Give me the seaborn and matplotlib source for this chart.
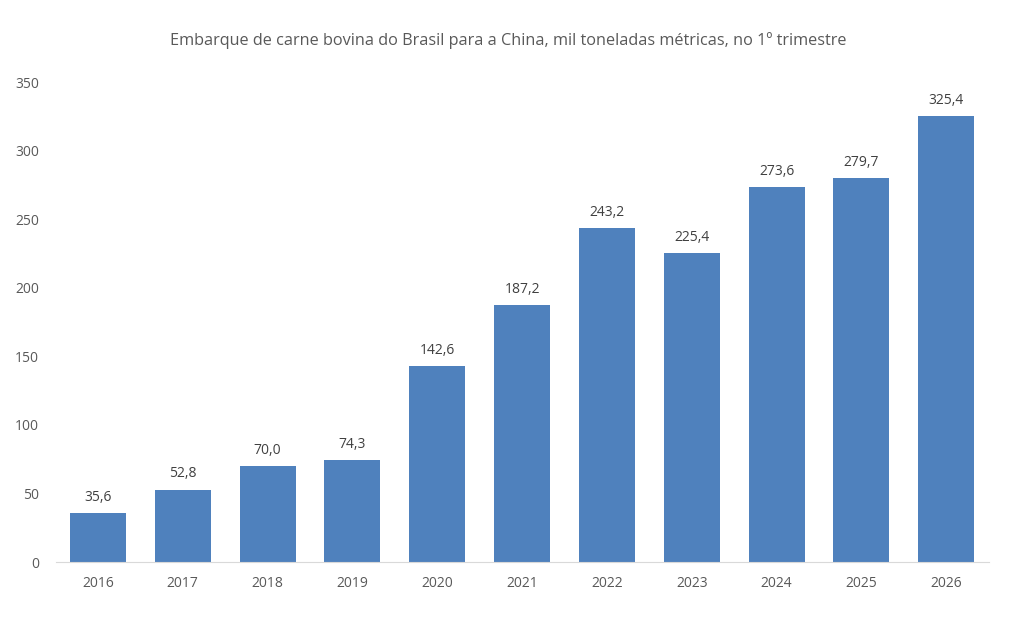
import matplotlib
matplotlib.use("Agg")
import matplotlib.pyplot as plt
import seaborn as sns
import pandas as pd

anos = ["2016", "2017", "2018", "2019", "2020", "2021", "2022", "2023", "2024", "2025", "2026"]
embarques = [35.6, 52.8, 70.0, 74.3, 142.6, 187.2, 243.2, 225.4, 273.6, 279.7, 325.4]

titulo = "Embarque de carne bovina do Brasil para a China, mil toneladas métricas, no 1º trimestre"

sns.set_style("white")
plt.rcParams["font.family"] = ["Open Sans", "DejaVu Sans"]

df = pd.DataFrame({"ano": anos, "embarque": embarques})

fig = plt.figure(figsize=(10.16, 6.29), dpi=100)
ax = fig.add_axes([0.0547, 0.1065, 0.9183, 0.7631])

sns.barplot(data=df, x="ano", y="embarque", color="#4F81BD", saturation=1, width=0.66,
            linewidth=0, ax=ax)

for p, v in zip(ax.patches, embarques):
    ax.text(p.get_x() + p.get_width() / 2, v + 6, f"{v:.1f}".replace(".", ","),
            ha="center", va="bottom", fontsize=10, color="#404040")

ax.set_ylim(0, 350)
ax.set_xlim(-0.5, 10.5)
ax.set_yticks(range(0, 351, 50))
ax.set_xlabel("")
ax.set_ylabel("")
ax.tick_params(axis="both", length=0, labelsize=10, colors="#595959")
ax.tick_params(axis="x", pad=10)
ax.tick_params(axis="y", pad=12)
for s in ["top", "right", "left"]:
    ax.spines[s].set_visible(False)
ax.spines["bottom"].set_color("#D9D9D9")

fig.text(0.5, 0.936, titulo, ha="center", va="center", fontsize=11.7, color="#595959")

fig.savefig("out.png", dpi=100)
